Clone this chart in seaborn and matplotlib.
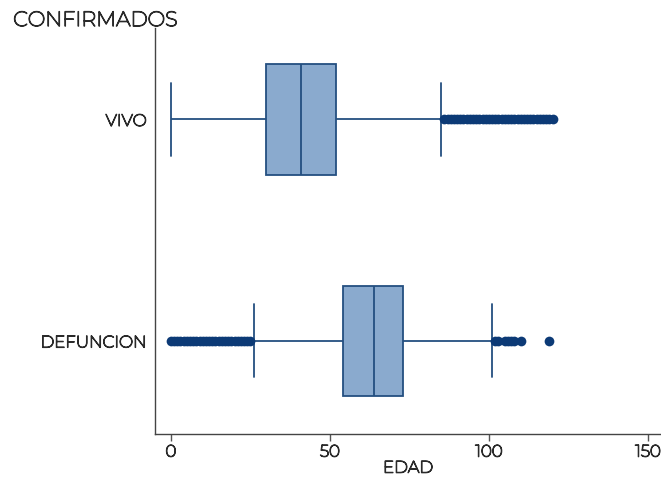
import matplotlib
matplotlib.use("Agg")
import matplotlib.pyplot as plt
import matplotlib.patheffects as pe
import seaborn as sns
import pandas as pd

# Five-number summaries of age (EDAD) by outcome
categories = ["VIVO", "DEFUNCION"]
whisker_low = [0, 26]
q1 = [30, 54]
median = [41, 64]
q3 = [52, 73]
whisker_high = [85, 101]

# Ages beyond the whiskers
outliers_vivo = list(range(86, 121))
outliers_def_low = list(range(0, 26))
outliers_def_high = [102, 103, 105, 106, 107, 108, 110, 119]

x_ticks = [0, 50, 100, 150]

sns.set_theme(style="white")
plt.rcParams["font.family"] = ["Montserrat", "DejaVu Sans"]

box_rows = []
for i, cat in enumerate(categories):
    for v in (whisker_low[i], q1[i], median[i], q3[i], whisker_high[i]):
        box_rows.append({"ESTADO": cat, "EDAD": v})
box_df = pd.DataFrame(box_rows)

out_df = pd.DataFrame(
    [{"ESTADO": "VIVO", "EDAD": v} for v in outliers_vivo]
    + [{"ESTADO": "DEFUNCION", "EDAD": v} for v in outliers_def_low + outliers_def_high]
)

fig = plt.figure(figsize=(6.61, 4.79), dpi=100)
ax = fig.add_axes([0.2345, 0.094, 0.7655, 0.848])

fill = "#8aaace"
line = "#244f80"
dot = "#0c3a76"
text_col = "#2a2a2a"
# thicken the light glyph strokes
bold = [pe.withStroke(linewidth=0.9, foreground=text_col)]

sns.boxplot(
    data=box_df, x="EDAD", y="ESTADO", order=categories,
    whis=(0, 100), width=0.5, color=fill, saturation=1,
    linecolor=line, linewidth=1.3, showfliers=False, ax=ax,
)
sns.stripplot(
    data=out_df, x="EDAD", y="ESTADO", order=categories,
    jitter=False, color=dot, size=7, linewidth=0, ax=ax,
)

# Longer whisker caps
for ln in ax.lines:
    xs, ys = ln.get_xdata(), ln.get_ydata()
    if len(xs) == 2 and xs[0] == xs[1] and abs(ys[1] - ys[0]) > 0.05 and abs(ys[1] - ys[0]) < 0.4:
        c = (ys[0] + ys[1]) / 2
        ln.set_ydata([c - 0.165, c + 0.165])

ax.set_xlim(-5, 154.1)
ax.set_ylim(1.42, -0.414)
ax.set_xticks(x_ticks)
ax.set_xticklabels([str(t) for t in x_ticks])
ax.set_xlabel("EDAD", fontsize=12, color=text_col, labelpad=0, path_effects=bold)
ax.set_ylabel("")
ax.tick_params(axis="x", bottom=True, length=5, width=1, color="#555555",
               labelsize=12, labelcolor=text_col, pad=2)
ax.tick_params(axis="y", left=False, length=0, labelsize=12, labelcolor=text_col, pad=6)
for lab in ax.get_xticklabels() + ax.get_yticklabels():
    lab.set_path_effects(bold)

for side in ("top", "right"):
    ax.spines[side].set_visible(False)
for side in ("left", "bottom"):
    ax.spines[side].set_color("#444444")
    ax.spines[side].set_linewidth(1)

fig.text(0.02, 0.957, "CONFIRMADOS", fontsize=15, color=text_col, ha="left", va="center",
         path_effects=bold)

fig.savefig("out.png", dpi=100)
